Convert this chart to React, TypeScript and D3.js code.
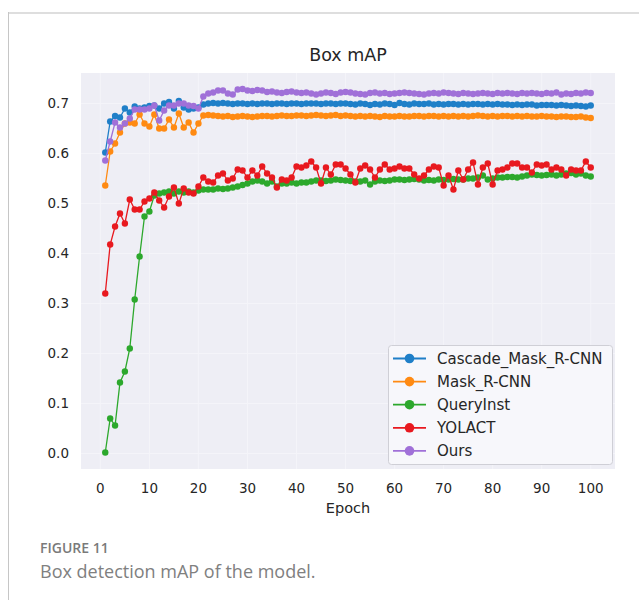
import React from "react";
import * as d3 from "d3";

const seriesNames = ["Cascade_Mask_R-CNN", "Mask_R-CNN", "QueryInst", "YOLACT", "Ours"];
const seriesColors = ["#1f7fc8", "#ff8a12", "#2ca82c", "#e8191f", "#a070d8"];

const epochs = d3.range(1, 101);

const cascadeMaskRcnn = [
  0.602, 0.664, 0.675, 0.672, 0.690, 0.682, 0.694, 0.690, 0.692, 0.695,
  0.696, 0.690, 0.700, 0.703, 0.690, 0.705, 0.692, 0.688, 0.690, 0.692,
  0.698, 0.700, 0.701, 0.700, 0.701, 0.700, 0.699, 0.700, 0.700, 0.699,
  0.700, 0.699, 0.700, 0.700, 0.699, 0.700, 0.700, 0.699, 0.700, 0.700,
  0.699, 0.700, 0.700, 0.700, 0.699, 0.700, 0.700, 0.699, 0.700, 0.700,
  0.699, 0.698, 0.700, 0.699, 0.697, 0.699, 0.698, 0.700, 0.699, 0.697,
  0.701, 0.699, 0.698, 0.700, 0.699, 0.699, 0.700, 0.698, 0.699, 0.698,
  0.699, 0.699, 0.698, 0.699, 0.698, 0.699, 0.699, 0.698, 0.699, 0.698,
  0.699, 0.698, 0.698, 0.697, 0.698, 0.697, 0.698, 0.698, 0.696, 0.697,
  0.697, 0.697, 0.696, 0.697, 0.696, 0.695, 0.696, 0.695, 0.694, 0.696,
];

const maskRcnn = [
  0.536, 0.604, 0.620, 0.642, 0.660, 0.662, 0.660, 0.678, 0.660, 0.654,
  0.678, 0.650, 0.650, 0.668, 0.652, 0.680, 0.652, 0.662, 0.642, 0.660,
  0.676, 0.677, 0.676, 0.675, 0.674, 0.675, 0.673, 0.674, 0.675, 0.674,
  0.673, 0.674, 0.675, 0.675, 0.674, 0.675, 0.676, 0.675, 0.675, 0.676,
  0.676, 0.675, 0.676, 0.677, 0.676, 0.675, 0.676, 0.677, 0.675, 0.676,
  0.675, 0.674, 0.675, 0.674, 0.675, 0.674, 0.673, 0.675, 0.674, 0.674,
  0.675, 0.674, 0.674, 0.675, 0.675, 0.674, 0.675, 0.675, 0.674, 0.675,
  0.674, 0.675, 0.674, 0.675, 0.674, 0.675, 0.676, 0.675, 0.674, 0.675,
  0.674, 0.675, 0.675, 0.674, 0.675, 0.674, 0.675, 0.674, 0.674, 0.675,
  0.674, 0.674, 0.673, 0.674, 0.674, 0.673, 0.673, 0.674, 0.672, 0.671,
];

const queryInst = [
  0.002, 0.070, 0.056, 0.142, 0.164, 0.210, 0.308, 0.394, 0.474, 0.484,
  0.516, 0.520, 0.522, 0.524, 0.520, 0.524, 0.522, 0.524, 0.522, 0.526,
  0.528, 0.528, 0.528, 0.530, 0.529, 0.530, 0.532, 0.534, 0.537, 0.540,
  0.544, 0.546, 0.544, 0.540, 0.544, 0.534, 0.540, 0.540, 0.542, 0.540,
  0.542, 0.542, 0.544, 0.546, 0.546, 0.545, 0.546, 0.548, 0.547, 0.546,
  0.545, 0.544, 0.544, 0.546, 0.538, 0.544, 0.546, 0.545, 0.546, 0.548,
  0.548, 0.547, 0.548, 0.549, 0.548, 0.546, 0.547, 0.546, 0.548, 0.547,
  0.548, 0.549, 0.548, 0.548, 0.550, 0.550, 0.552, 0.556, 0.548, 0.550,
  0.552, 0.552, 0.553, 0.553, 0.552, 0.554, 0.556, 0.558, 0.557, 0.556,
  0.557, 0.558, 0.556, 0.558, 0.560, 0.561, 0.558, 0.560, 0.556, 0.554,
];

const yolact = [
  0.320, 0.418, 0.454, 0.480, 0.460, 0.508, 0.488, 0.488, 0.504, 0.510,
  0.522, 0.506, 0.492, 0.514, 0.532, 0.500, 0.530, 0.522, 0.520, 0.534,
  0.552, 0.544, 0.542, 0.556, 0.560, 0.546, 0.550, 0.568, 0.566, 0.552,
  0.566, 0.556, 0.574, 0.560, 0.552, 0.532, 0.548, 0.546, 0.552, 0.574,
  0.572, 0.576, 0.584, 0.572, 0.540, 0.572, 0.558, 0.578, 0.578, 0.570,
  0.558, 0.542, 0.570, 0.576, 0.568, 0.552, 0.568, 0.578, 0.568, 0.570,
  0.574, 0.570, 0.570, 0.558, 0.550, 0.556, 0.568, 0.574, 0.572, 0.536,
  0.556, 0.528, 0.566, 0.548, 0.568, 0.582, 0.538, 0.572, 0.580, 0.538,
  0.566, 0.568, 0.572, 0.580, 0.580, 0.572, 0.572, 0.562, 0.578, 0.576,
  0.578, 0.568, 0.572, 0.568, 0.556, 0.568, 0.566, 0.566, 0.584, 0.572,
];

const ours = [
  0.586, 0.624, 0.662, 0.652, 0.660, 0.670, 0.688, 0.688, 0.688, 0.690,
  0.696, 0.666, 0.686, 0.696, 0.696, 0.700, 0.700, 0.696, 0.695, 0.690,
  0.714, 0.720, 0.722, 0.726, 0.726, 0.720, 0.718, 0.728, 0.729, 0.726,
  0.725, 0.727, 0.726, 0.723, 0.724, 0.722, 0.721, 0.723, 0.724, 0.722,
  0.721, 0.722, 0.720, 0.718, 0.720, 0.722, 0.721, 0.719, 0.722, 0.723,
  0.722, 0.720, 0.719, 0.718, 0.721, 0.722, 0.720, 0.721, 0.719, 0.720,
  0.721, 0.722, 0.721, 0.720, 0.719, 0.718, 0.720, 0.721, 0.720, 0.722,
  0.721, 0.720, 0.719, 0.721, 0.720, 0.719, 0.720, 0.721, 0.720, 0.719,
  0.721, 0.720, 0.721, 0.720, 0.719, 0.721, 0.720, 0.721, 0.720, 0.719,
  0.721, 0.720, 0.722, 0.718, 0.720, 0.719, 0.721, 0.720, 0.722, 0.721,
];

const seriesValues = [cascadeMaskRcnn, maskRcnn, queryInst, yolact, ours];

const xTicks = [0, 10, 20, 30, 40, 50, 60, 70, 80, 90, 100];
const yTicks = [0.0, 0.1, 0.2, 0.3, 0.4, 0.5, 0.6, 0.7];

const width = 639;
const height = 600;
const plot = { left: 81, right: 615, top: 73, bottom: 469 };
const chartFont = "'DejaVu Sans', sans-serif";

export default function App() {
  const x = d3.scaleLinear().domain([-3.95, 104.95]).range([plot.left, plot.right]);
  const y = d3.scaleLinear().domain([-0.031, 0.761]).range([plot.bottom, plot.top]);

  const line = d3
    .line<number>()
    .x((_, i) => x(epochs[i]))
    .y((d) => y(d));

  const legend = { x: 388, y: 345, w: 224, h: 119, rowH: 23.1 };

  return (
    <svg
      width={width}
      height={height}
      style={{ position: "absolute", left: 0, top: 0, background: "#fff" }}
    >
      {/* card border */}
      <line x1={8} x2={639} y1={13} y2={13} stroke="#dedede" strokeWidth={2} />
      <line x1={8.5} x2={8.5} y1={12} y2={600} stroke="#c6c6c6" strokeWidth={1} />

      {/* plot background + grid */}
      <rect
        x={plot.left}
        y={plot.top}
        width={plot.right - plot.left}
        height={plot.bottom - plot.top}
        fill="#eeeef5"
      />
      {yTicks.map((t) => (
        <line
          key={"gy" + t}
          x1={plot.left}
          x2={plot.right}
          y1={y(t)}
          y2={y(t)}
          stroke="#f4f4f9"
          strokeWidth={1}
        />
      ))}
      {xTicks.map((t) => (
        <line
          key={"gx" + t}
          x1={x(t)}
          x2={x(t)}
          y1={plot.top}
          y2={plot.bottom}
          stroke="#f4f4f9"
          strokeWidth={1}
        />
      ))}

      {/* series */}
      {seriesValues.map((vals, si) => (
        <g key={seriesNames[si]}>
          <path d={line(vals) || ""} fill="none" stroke={seriesColors[si]} strokeWidth={1.3} />
          {vals.map((v, i) => (
            <circle key={i} cx={x(epochs[i])} cy={y(v)} r={3.2} fill={seriesColors[si]} />
          ))}
        </g>
      ))}

      {/* y tick labels */}
      {yTicks.map((t) => (
        <text
          key={"yt" + t}
          x={plot.left - 12}
          y={y(t)}
          dy="0.35em"
          textAnchor="end"
          fontFamily={chartFont}
          fontSize={13.5}
          fill="#262626"
        >
          {t.toFixed(1)}
        </text>
      ))}

      {/* x tick labels */}
      {xTicks.map((t) => (
        <text
          key={"xt" + t}
          x={x(t)}
          y={plot.bottom + 24}
          textAnchor="middle"
          fontFamily={chartFont}
          fontSize={13.5}
          fill="#262626"
        >
          {t}
        </text>
      ))}

      <text
        x={(plot.left + plot.right) / 2}
        y={plot.bottom + 44}
        textAnchor="middle"
        fontFamily={chartFont}
        fontSize={14.5}
        fill="#262626"
      >
        Epoch
      </text>

      <text
        x={(plot.left + plot.right) / 2}
        y={61}
        textAnchor="middle"
        fontFamily={chartFont}
        fontSize={17.5}
        fill="#262626"
      >
        Box mAP
      </text>

      {/* legend */}
      <rect
        x={legend.x + 0.5}
        y={legend.y + 0.5}
        width={legend.w}
        height={legend.h}
        rx={3}
        fill="#f7f7fb"
        stroke="#cfcfd6"
        strokeWidth={1}
      />
      {seriesNames.map((name, i) => {
        const cy = legend.y + 13.5 + i * legend.rowH;
        return (
          <g key={"lg" + name}>
            <line
              x1={legend.x + 5}
              x2={legend.x + 38}
              y1={cy}
              y2={cy}
              stroke={seriesColors[i]}
              strokeWidth={1.8}
            />
            <circle cx={legend.x + 21.5} cy={cy} r={4.8} fill={seriesColors[i]} />
            <text
              x={legend.x + 49}
              y={cy}
              dy="0.36em"
              fontFamily={chartFont}
              fontSize={15}
              fill="#262626"
            >
              {name}
            </text>
          </g>
        );
      })}

      {/* caption */}
      <text
        x={40}
        y={553}
        fontFamily="'Open Sans', sans-serif"
        fontSize={14}
        fontWeight={600}
        fill="#7a7a7a"
      >
        FIGURE 11
      </text>
      <text x={40} y={578} fontFamily="'Open Sans', sans-serif" fontSize={18} fill="#808080">
        Box detection mAP of the model.
      </text>
    </svg>
  );
}
